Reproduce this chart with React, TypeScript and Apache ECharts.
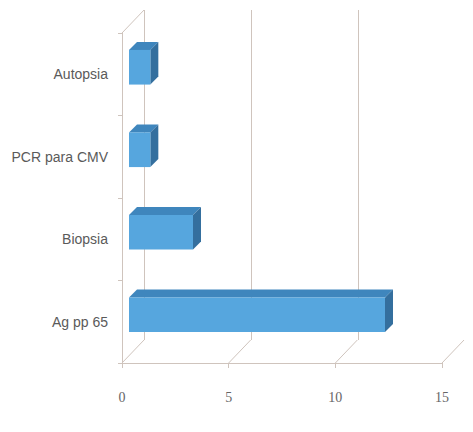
import React, { useEffect, useRef } from "react";
import * as echarts from "echarts";

const categories = ["Ag pp 65", "Biopsia", "PCR para CMV", "Autopsia"];
const values = [12, 3, 1, 1];
const xTicks = [0, 5, 10, 15];

const lineColor = "#cfc4bd";
const frontColor = "#56a6de";
const topColor = "#3f86bd";
const sideColor = "#346f9e";
const DX = 22;
const DY = -23;

export default function App() {
  const ref = useRef<HTMLDivElement>(null);
  useEffect(() => {
    if (!ref.current) return;
    const chart = echarts.init(ref.current, undefined, { renderer: "svg" });
    const option: any = {
      animation: false,
      backgroundColor: "#ffffff",
      grid: [
        { left: 122, top: 33, width: 320, height: 330 },
        { left: 144, top: 10, width: 322, height: 330 },
      ],
      xAxis: [
        {
          gridIndex: 0,
          type: "value",
          min: 0,
          max: 15,
          interval: 5,
          axisLine: { show: true, lineStyle: { color: lineColor, width: 1 } },
          axisTick: { show: true, length: 5, inside: false, lineStyle: { color: lineColor } },
          splitLine: { show: false },
          axisLabel: {
            show: true,
            margin: 27,
            fontFamily: "Liberation Serif",
            fontSize: 14,
            color: "#666",
          },
        },
        {
          gridIndex: 1,
          type: "value",
          min: 0,
          max: 15,
          interval: 5,
          axisLine: { show: false },
          axisTick: { show: false },
          axisLabel: { show: false },
          splitLine: { show: true, lineStyle: { color: lineColor, width: 1 } },
        },
      ],
      yAxis: [
        {
          gridIndex: 0,
          type: "category",
          data: categories,
          axisLine: { show: true, lineStyle: { color: lineColor, width: 1 } },
          axisTick: { show: true, length: 4, lineStyle: { color: lineColor } },
          axisLabel: {
            show: true,
            margin: 14,
            fontFamily: "Liberation Sans",
            fontSize: 14,
            color: "#5a5a5a",
          },
          splitLine: { show: false },
        },
        {
          gridIndex: 1,
          type: "category",
          data: categories,
          show: false,
        },
      ],
      series: [
        {
          type: "custom",
          xAxisIndex: 0,
          yAxisIndex: 0,
          z: 1,
          data: xTicks.map((v) => [v]),
          renderItem: (params: any, api: any) => {
            const v = api.value(0);
            const x = api.coord([v, 0])[0];
            const cs = params.coordSys;
            const base = cs.y + cs.height;
            const children: any[] = [
              {
                type: "line",
                shape: { x1: x, y1: base, x2: x + DX, y2: base + DY },
                style: { stroke: lineColor, lineWidth: 1 },
              },
            ];
            if (v === 0) {
              children.push({
                type: "line",
                shape: { x1: cs.x, y1: cs.y, x2: cs.x + DX, y2: cs.y + DY },
                style: { stroke: lineColor, lineWidth: 1 },
              });
            }
            return { type: "group", children };
          },
        },
        {
          type: "custom",
          xAxisIndex: 0,
          yAxisIndex: 0,
          z: 3,
          data: values.map((v, i) => [v, i]),
          renderItem: (params: any, api: any) => {
            const v = api.value(0);
            const idx = api.value(1);
            const s = api.coord([0, idx]);
            const e = api.coord([v, idx]);
            const band = api.size([0, 1])[1];
            const h = band * 0.42;
            const dx = 7;
            const dy = -7;
            const depth = 8;
            const x0 = s[0] + dx;
            const x1 = e[0] + dx;
            const yc = s[1] + dy;
            const y0 = yc - h / 2;
            const y1 = yc + h / 2;
            return {
              type: "group",
              children: [
                {
                  type: "polygon",
                  shape: {
                    points: [
                      [x0, y0],
                      [x1, y0],
                      [x1 + depth, y0 - depth],
                      [x0 + depth, y0 - depth],
                    ],
                  },
                  style: { fill: topColor },
                },
                {
                  type: "polygon",
                  shape: {
                    points: [
                      [x1, y0],
                      [x1 + depth, y0 - depth],
                      [x1 + depth, y1 - depth],
                      [x1, y1],
                    ],
                  },
                  style: { fill: sideColor },
                },
                {
                  type: "rect",
                  shape: { x: x0, y: y0, width: x1 - x0, height: h },
                  style: { fill: frontColor },
                },
              ],
            };
          },
        },
      ],
    };
    chart.setOption(option);
    return () => chart.dispose();
  }, []);
  return <div ref={ref} style={{ width: 473, height: 432, margin: -8 }} />;
}
